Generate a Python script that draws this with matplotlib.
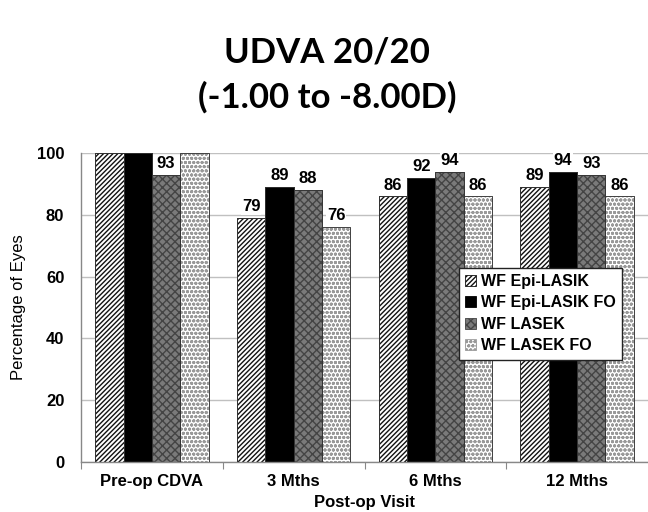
import numpy as np
import matplotlib
matplotlib.use("Agg")
import matplotlib.pyplot as plt

plt.rcParams['hatch.linewidth'] = 1.0

visits = ['Pre-op CDVA', '3 Mths', '6 Mths', '12 Mths']
groups = ['WF Epi-LASIK', 'WF Epi-LASIK FO', 'WF LASEK', 'WF LASEK FO']
epi_lasik = [100, 79, 86, 89]
epi_lasik_fo = [100, 89, 92, 94]
lasek = [93, 88, 94, 93]
lasek_fo = [100, 76, 86, 86]

series = [epi_lasik, epi_lasik_fo, lasek, lasek_fo]
faces = ['white', 'black', '#7a7a7a', 'white']
hatches = ['///////', None, 'xxxx', 'oooo']
hatch_cols = ['#111111', 'black', '#444444', '#999999']

fig = plt.figure(figsize=(6.48, 5.12), dpi=100)
ax = fig.add_axes([0.125, 0.098, 0.875, 0.603])

x = np.arange(len(visits))
w = 0.2
for i, vals in enumerate(series):
    pos = x + (i - 1.5) * w
    ax.bar(pos, vals, w, color=faces[i], hatch=hatches[i],
           edgecolor=hatch_cols[i], linewidth=0.6, label=groups[i], zorder=2)
    # thin outline on each bar
    ax.bar(pos, vals, w, color='none', edgecolor='#333333', linewidth=0.6, zorder=3)
    for p, v in zip(pos, vals):
        if v < 100:
            ax.text(p, v + 1.2, str(v), ha='center', va='bottom', fontsize=12,
                    fontweight='bold', family='Liberation Sans', zorder=4,
                    bbox=dict(facecolor='white', edgecolor='none', pad=0.5))

ax.set_xlim(-0.5, 3.5)
ax.set_ylim(0, 100)
ax.set_yticks(range(0, 101, 20))
ax.yaxis.grid(True, color='#c0c0c0', linewidth=1.0, zorder=0)
ax.set_axisbelow(True)

ax.set_xticks([-0.5, 0.5, 1.5, 2.5])
ax.set_xticklabels([])
ax.set_xticks(x, minor=True)
ax.set_xticklabels(visits, minor=True, fontsize=12, fontweight='bold', family='Liberation Sans')
ax.tick_params(axis='x', which='major', length=5, color='#888888', direction='out')
ax.tick_params(axis='x', which='minor', length=0, pad=9)
ax.tick_params(axis='y', length=0, pad=12, labelsize=12)
for lab in ax.get_yticklabels():
    lab.set_fontweight('bold')
    lab.set_family('Liberation Sans')

for s in ['top', 'right']:
    ax.spines[s].set_visible(False)
for s in ['left', 'bottom']:
    ax.spines[s].set_color('#888888')
    ax.spines[s].set_linewidth(1.0)

ax.set_ylabel('Percentage of Eyes', fontsize=12, family='Liberation Sans', labelpad=8)
fig.text(0.562, 0.019, 'Post-op Visit', ha='center', va='center', fontsize=12,
         fontweight='bold', family='Liberation Sans')

fig.text(0.505, 0.897, 'UDVA 20/20', ha='center', va='center', fontsize=25,
         fontweight='bold', family='Lato')
fig.text(0.505, 0.81, '(-1.00 to -8.00D)', ha='center', va='center', fontsize=25,
         fontweight='bold', family='Lato')

leg = ax.legend(loc='upper left', bbox_to_anchor=(0.652, 0.655), frameon=True,
                fancybox=False, framealpha=1, edgecolor='#222222',
                prop={'family': 'Liberation Sans', 'weight': 'bold', 'size': 11.5},
                handlelength=0.7, handleheight=0.7, handletextpad=0.3,
                labelspacing=0.4, borderpad=0.4)
leg.get_frame().set_linewidth(1.0)
leg.set_zorder(5)

fig.savefig('out.png', dpi=100)
